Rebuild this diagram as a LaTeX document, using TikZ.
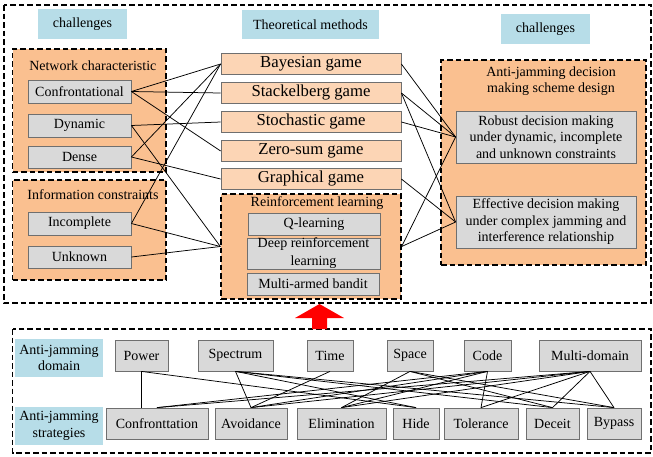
\documentclass[tikz,border=0pt]{standalone}
\usepackage{fontspec}
\setmainfont{Liberation Serif}
\definecolor{labelblue}{HTML}{B7DDE8}
\definecolor{grporange}{HTML}{FAC090}
\definecolor{gamepeach}{HTML}{FCD5B5}
\definecolor{boxgray}{HTML}{D9D9D9}
\definecolor{edgegray}{HTML}{6F6F6F}
\begin{document}
\begin{tikzpicture}[x=1pt,y=-1pt,
  txt/.style={font=\fontsize{14}{16.5}\selectfont},
  tag/.style={txt, fill=labelblue, inner sep=0pt, align=center},
  grp/.style={draw=black, fill=grporange, dash pattern=on 5.5pt off 3pt, line width=1.3pt, inner sep=0pt},
  frame/.style={draw=black, dash pattern=on 5.5pt off 3pt, line width=1.3pt},
  cell/.style={txt, draw=edgegray, fill=boxgray, line width=0.8pt, inner sep=0pt, align=center},
  game/.style={draw=edgegray, fill=gamepeach, line width=0.8pt, inner sep=0pt,
    minimum width=180pt, minimum height=21pt, font=\fontsize{16.7}{19}\selectfont},
  link/.style={line width=0.75pt}
]
\useasboundingbox (0,0) rectangle (653,456);
\fill[white] (0,0) rectangle (653,456);

% outer frames
\draw[frame] (4,5) rectangle (651,303);
\draw[frame] (12.7,329) rectangle (651,453);

% column headings
\node[tag, minimum width=89pt, minimum height=30pt] (hdA) at (82.5,24) {challenges};
\node[tag, minimum width=137pt, minimum height=29pt] (hdB) at (310.5,24.5) {Theoretical methods};
\node[tag, minimum width=89pt, minimum height=30pt] (hdC) at (545.5,29) {challenges};

% challenge groups
\node[grp, minimum width=153.3pt, minimum height=123pt] (netgrp) at (89.35,110.5) {};
\node[txt] (nettitle) at (92.8,66) {Network characteristic};
\node[grp, minimum width=153.3pt, minimum height=100pt] (infogrp) at (89.35,230) {};
\node[txt] (infotitle) at (93,195) {Information constraints};

\node[cell, minimum width=103pt, minimum height=23pt] (conf) at (79.5,91.5) {Confrontational};
\node[cell, minimum width=103pt, minimum height=23pt] (dyn) at (79.5,125.5) {Dynamic};
\node[cell, minimum width=103pt, minimum height=22pt] (dense) at (79.5,157) {Dense};
\node[cell, minimum width=103pt, minimum height=23pt] (incomp) at (79.5,223.5) {Incomplete};
\node[cell, minimum width=103pt, minimum height=22pt] (unk) at (79.5,257) {Unknown};

% theoretical methods
\node[game] (bay) at (311,64) {Bayesian game};
\node[game] (stack) at (311,93) {Stackelberg game};
\node[game] (stoch) at (311,122) {Stochastic game};
\node[game] (zero) at (311,151) {Zero-sum game};
\node[game] (graph) at (311,179) {Graphical game};

\node[grp, minimum width=180pt, minimum height=105pt] (rl) at (311,246.5) {};
\node[txt] (rltitle) at (317,203) {Reinforcement learning};
\node[cell, minimum width=132pt, minimum height=22pt] (ql) at (314,224) {Q-learning};
\node[cell, minimum width=133pt, minimum height=29pt, font=\fontsize{14}{18}\selectfont] (drl) at (313.5,253.5) {Deep reinforcement\\learning};
\node[cell, minimum width=132pt, minimum height=22pt] (mab) at (313,284) {Multi-armed bandit};

% decision design group
\node[grp, minimum width=205pt, minimum height=205pt] (desgrp) at (543.5,162.5) {};
\node[txt, align=center, font=\fontsize{14}{15.5}\selectfont] (destitle) at (551,81) {Anti-jamming decision\\making scheme design};
\node[cell, minimum width=180pt, minimum height=52pt] (robust) at (546,137) {Robust decision making\\under dynamic, incomplete\\and unknown constraints};
\node[cell, minimum width=180pt, minimum height=52pt] (effect) at (546,222) {Effective decision making\\under complex jamming and\\interference relationship};

% links: challenges to methods
\draw[link] (conf.east) -- (bay.west);
\draw[link] (conf.east) -- (stack.west);
\draw[link] (conf.east) -- (zero.west);
\draw[link] (dyn.east) -- (stoch.west);
\draw[link] (dyn.east) -- (rl.west);
\draw[link] (dense.east) -- (bay.west);
\draw[link] (dense.east) -- (graph.west);
\draw[link] (incomp.east) -- (bay.west);
\draw[link] (incomp.east) -- (rl.west);
\draw[link] (unk.east) -- (rl.west);

% links: methods to design goals
\draw[link] (bay.east) -- (robust.west);
\draw[link] (stack.east) -- (robust.west);
\draw[link] (stack.east) -- (effect.west);
\draw[link] (stoch.east) -- (robust.west);
\draw[link] (graph.east) -- (effect.west);
\draw[link] (rl.east) -- (robust.west);
\draw[link] (rl.east) -- (effect.west);

% red block arrow
\fill[red] (312,329) -- (312,318) -- (295,318) -- (319.5,304) -- (344,318) -- (327,318) -- (327,329) -- cycle;

% domains and strategies
\node[tag, minimum width=88pt, minimum height=38pt] (domtag) at (59,358) {Anti-jamming\\domain};
\node[tag, minimum width=88pt, minimum height=38pt] (strtag) at (59,426) {Anti-jamming\\strategies};

\node[cell, minimum width=53pt, minimum height=31pt] (power) at (141.5,355.5) {Power};
\node[cell, minimum width=75pt, minimum height=31pt] (spec) at (235.5,355.5) {Spectrum};
\node[cell, minimum width=46pt, minimum height=31pt] (time) at (330,355.5) {Time};
\node[cell, minimum width=46pt, minimum height=31pt] (space) at (410,355.5) {Space};
\node[cell, minimum width=47pt, minimum height=31pt] (code) at (487.5,355.5) {Code};
\node[cell, minimum width=102pt, minimum height=31pt] (multi) at (590,355.5) {Multi-domain};

\node[cell, minimum width=102pt, minimum height=31pt] (confr) at (157,423.5) {Confronttation};
\node[cell, minimum width=72pt, minimum height=31pt] (avoid) at (251,423.5) {Avoidance};
\node[cell, minimum width=89pt, minimum height=31pt] (elim) at (341.5,423.5) {Elimination};
\node[cell, minimum width=46pt, minimum height=31pt] (hide) at (416,423.5) {Hide};
\node[cell, minimum width=74pt, minimum height=31pt] (tol) at (481,423.5) {Tolerance};
\node[cell, minimum width=53pt, minimum height=31pt] (dec) at (552.5,423.5) {Deceit};
\node[cell, minimum width=54pt, minimum height=31pt] (byp) at (614,423.5) {Bypass};

% links: domains to strategies
\draw[link] (power.south) -- (power.south |- confr.north);
\draw[link] (power.south) -- (hide.north);
\draw[link] (spec.south) -- (avoid.north);
\draw[link] (spec.south) -- (hide.north);
\draw[link] (spec.south) -- (dec.north);
\draw[link] (spec.south) -- (byp.north);
\draw[link] (time.south) -- (avoid.north);
\draw[link] (space.south) -- (elim.north);
\draw[link] (space.south) -- (dec.north);
\draw[link] (space.south) -- (byp.north);
\draw[link] (code.south) -- (tol.north);
\draw[link] (code.south) -- (confr.north);
\draw[link] (code.south) -- (avoid.north);
\draw[link] (code.south) -- (elim.north);
\draw[link] (multi.south) -- (confr.north);
\draw[link] (multi.south) -- (avoid.north);
\draw[link] (multi.south) -- (elim.north);
\draw[link] (multi.south) -- (tol.north);
\draw[link] (multi.south) -- (dec.north);
\draw[link] (multi.south) -- (byp.north);
\end{tikzpicture}
\end{document}
